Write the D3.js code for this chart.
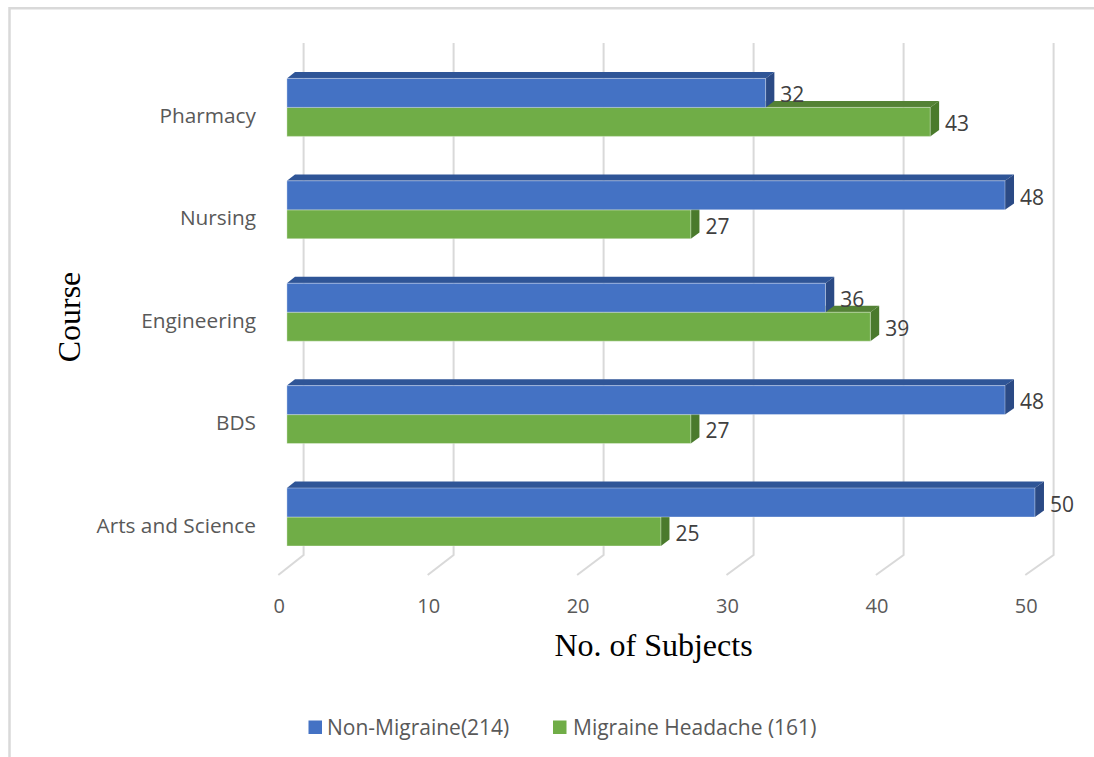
<!DOCTYPE html>
<html>
<head>
<meta charset="utf-8">
<script src="https://cdn.jsdelivr.net/npm/d3@7"></script>
<style>
  html, body { margin: 0; padding: 0; background: #fff; }
  svg { display: block; }
</style>
</head>
<body>
<svg id="chart" width="1094" height="757"></svg>
<script>
// Subjects per course, split by migraine status
const categories = ["Pharmacy", "Nursing", "Engineering", "BDS", "Arts and Science"];
const nonMigraine = [32, 48, 36, 48, 50];
const migraine = [43, 27, 39, 27, 25];
const xTicks = [0, 10, 20, 30, 40, 50];
const seriesNames = ["Non-Migraine(214)", "Migraine Headache (161)"];

const svg = d3.select("#chart");
const W = 1094, H = 757;

// oblique 3D projection: t = 0 is the front edge of the floor, t = 1 the back wall
const DEPTH_DY = -20;
const frontX = d3.scaleLinear().domain([0, 50]).range([278.3, 1025.3]);
const backX = d3.scaleLinear().domain([0, 50]).range([303.6, 1053.6]);
function xAt(v, t) { return frontX(v) + (backX(v) - frontX(v)) * t; }
function proj(v, yFront, t) { return [xAt(v, t), yFront + DEPTH_DY * t]; }

const floorFrontY = 575, wallTopY = 43;
const y = d3.scaleBand()
  .domain(categories)
  .range([wallTopY - DEPTH_DY, floorFrontY])
  .paddingInner(0.434)
  .paddingOuter(0.217);

const T_FRONT = 0.34, T_BACK = 0.66;

// chart frame
svg.append("path")
  .attr("d", `M9.5,757 L9.5,8.3 L${W},8.3`)
  .attr("fill", "none")
  .attr("stroke", "#d9d9d9")
  .attr("stroke-width", 2.5);

// back-wall gridlines and floor lines
const grid = svg.append("g").attr("stroke", "#d9d9d9").attr("stroke-width", 2).attr("fill", "none");
xTicks.forEach(v => {
  const floorBackY = floorFrontY + DEPTH_DY;
  grid.append("path")
    .attr("d", `M${backX(v)},${wallTopY} L${backX(v)},${floorBackY} L${frontX(v)},${floorFrontY}`);
});

// tick labels
svg.append("g").selectAll("text")
  .data(xTicks)
  .join("text")
  .attr("x", d => frontX(d) + 1)
  .attr("y", 606)
  .attr("dy", "0.35em")
  .attr("text-anchor", "middle")
  .attr("font-family", "'Open Sans', sans-serif")
  .attr("font-size", 20)
  .attr("fill", "#595959")
  .text(d => d);

// category labels
svg.append("g").selectAll("text")
  .data(categories)
  .join("text")
  .attr("x", 256)
  .attr("y", d => y(d) + y.bandwidth() / 2 + 1.5)
  .attr("dy", "0.35em")
  .attr("text-anchor", "end")
  .attr("font-family", "'Open Sans', sans-serif")
  .attr("font-size", 20.8)
  .attr("fill", "#595959")
  .text(d => d);

// bars
const palette = [
  { front: "#4472C4", top: "#2F5597", side: "#2B4A85" },
  { front: "#70AD47", top: "#548235", side: "#4A7A2C" }
];
const seriesValues = [nonMigraine, migraine];

function poly(points) {
  return "M" + points.map(p => p.join(",")).join("L") + "Z";
}

const bars = svg.append("g");
categories.forEach((cat, ci) => {
  // lower (green) bar is drawn first so the upper bar body covers its top face
  [1, 0].forEach(si => {
    const v = seriesValues[si][ci];
    const h = y.bandwidth() / 2;
    const y0 = y(cat) + si * h;
    const y1 = y0 + h;
    const c = palette[si];
    const g = bars.append("g");
    g.append("path")
      .attr("d", poly([proj(0, y0, T_FRONT), proj(v, y0, T_FRONT), proj(v, y0, T_BACK), proj(0, y0, T_BACK)]))
      .attr("fill", c.top);
    g.append("path")
      .attr("d", poly([proj(v, y0, T_FRONT), proj(v, y0, T_BACK), proj(v, y1, T_BACK), proj(v, y1, T_FRONT)]))
      .attr("fill", c.side);
    g.append("path")
      .attr("d", poly([proj(0, y0, T_FRONT), proj(v, y0, T_FRONT), proj(v, y1, T_FRONT), proj(0, y1, T_FRONT)]))
      .attr("fill", c.front)
      .attr("stroke", "rgba(255,255,255,0.35)")
      .attr("stroke-width", 1);
  });
});

// value labels
const labels = svg.append("g");
categories.forEach((cat, ci) => {
  [0, 1].forEach(si => {
    const v = seriesValues[si][ci];
    const h = y.bandwidth() / 2;
    const yc = y(cat) + si * h + h / 2 + DEPTH_DY * T_FRONT + 2;
    labels.append("text")
      .attr("x", xAt(v, T_BACK) + 6)
      .attr("y", yc)
      .attr("dy", "0.35em")
      .attr("font-family", "'Open Sans', sans-serif")
      .attr("font-size", 21)
      .attr("fill", "#404040")
      .text(v);
  });
});

// axis titles
svg.append("text")
  .attr("x", 653.5)
  .attr("y", 656)
  .attr("text-anchor", "middle")
  .attr("font-family", "'Liberation Serif', 'Times New Roman', serif")
  .attr("font-size", 32)
  .attr("fill", "#000")
  .text("No. of Subjects");

svg.append("text")
  .attr("transform", "translate(80,317) rotate(-90)")
  .attr("text-anchor", "middle")
  .attr("font-family", "'Liberation Serif', 'Times New Roman', serif")
  .attr("font-size", 32)
  .attr("fill", "#000")
  .text("Course");

// legend
const legend = svg.append("g");
const legendItems = [
  { name: seriesNames[0], color: palette[0].front, sx: 308.5, tx: 327 },
  { name: seriesNames[1], color: palette[1].front, sx: 553, tx: 573 }
];
legendItems.forEach(it => {
  legend.append("rect")
    .attr("x", it.sx).attr("y", 720.5)
    .attr("width", 13.5).attr("height", 13.5)
    .attr("fill", it.color);
  legend.append("text")
    .attr("x", it.tx)
    .attr("y", 727.5)
    .attr("dy", "0.35em")
    .attr("font-family", "'Open Sans', sans-serif")
    .attr("font-size", 21)
    .attr("fill", "#595959")
    .text(it.name);
});
</script>
</body>
</html>
